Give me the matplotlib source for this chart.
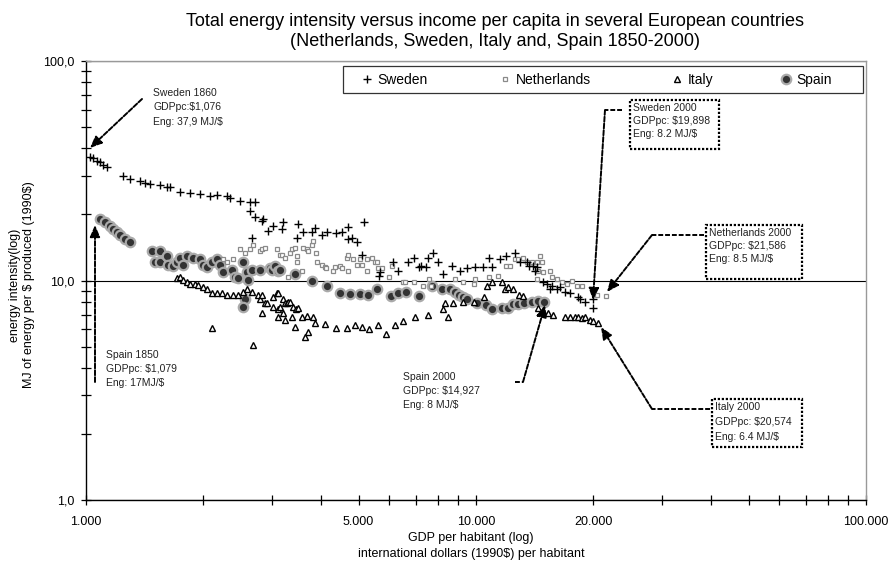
import matplotlib
matplotlib.use('Agg')
import matplotlib.pyplot as plt
from matplotlib.ticker import FixedLocator, FixedFormatter, LogLocator, NullFormatter
from matplotlib.patches import Rectangle
from matplotlib.legend import Legend

plt.rcParams['font.family'] = ['Liberation Sans', 'DejaVu Sans']
plt.rcParams['text.parse_math'] = False

# GDP per capita (1990 int. $) and energy intensity (MJ per $)
swe_gdp = [1024, 1042, 1067, 1086, 1106, 1132,
           1244, 1297, 1375, 1420, 1459, 1548, 1612, 1642,
           1742, 1849, 1961, 2081, 2166,
           2298, 2339, 2482, 2634, 2713,
           2634, 2660, 2713, 2826, 2843, 2927, 3014, 3178, 3196, 3473, 3494,
           3598, 3796, 3864, 4025, 4143, 4376, 4545, 4690, 4690, 4806, 4955, 5111, 5176,
           5628, 5662, 6114, 6315, 6710, 6924, 7138, 7227, 7450, 7546, 7769, 7995,
           8217, 8664, 9077, 9463, 9924, 10416, 10800, 10990,
           11506, 11958, 12563, 12980, 13510, 13700, 14005, 14170, 14360,
           14850, 15210, 15500, 15650, 16130, 16420, 16910, 17420, 18260, 18480,
           19040, 19950, 19898]
swe_int = [36.5, 36.2, 35.0, 34.7, 33.6, 32.9,
           29.9, 29.0, 28.5, 27.8, 27.5, 27.3, 26.6, 26.6,
           25.3, 25.0, 24.8, 24.2, 24.5,
           24.2, 23.8, 23.0, 22.7, 22.7,
           20.7, 15.6, 19.4, 18.6, 19.0, 16.8, 17.7, 17.1, 18.4, 15.7, 18.0,
           16.6, 16.6, 17.3, 16.2, 16.6, 16.4, 16.6, 17.5, 15.4, 15.7, 14.9, 13.1, 18.4,
           10.5, 10.9, 12.1, 11.0, 12.1, 12.7, 11.5, 11.6, 11.5, 12.6, 13.4, 12.1,
           10.65, 11.7, 11.0, 11.4, 11.5, 11.5, 12.6, 11.5,
           12.5, 12.9, 13.4, 12.2, 12.2, 11.7, 11.6, 11.0, 11.5,
           9.8, 9.6, 9.1, 9.4, 9.1, 9.3, 8.9, 8.8, 8.4, 8.2,
           8.0, 7.5, 8.2]

nld_gdp = [2245, 2298, 2382, 2482, 2557, 2634, 2680, 2794, 2826, 2877,
           3091, 3145, 3178, 3237, 3296, 3332, 3375, 3434, 3473, 3473,
           3580, 3598, 3687, 3709, 3796, 3818, 3888, 3911, 4025, 4102,
           4127, 4299, 4350, 4480, 4534, 4662, 4690, 4690, 4838, 4955,
           5042, 5111, 5254, 5254, 5412, 5508, 5573, 5607, 5741, 5984,
           6092, 6500, 6577, 6924, 7313, 7590, 7680, 8837, 9262, 9854,
           9924, 10800, 11386, 11958, 12190, 12563, 12830, 13200, 13520, 13920,
           14360, 14600, 14800, 14440, 14890, 15500, 15650, 14360, 16110, 16590,
           17120, 17670, 18200, 18720, 20430, 21586]
nld_int = [12.5, 12.1, 12.5, 13.9, 13.3, 13.9, 14.5, 13.6, 13.9, 14.1,
           13.9, 13.1, 13.1, 12.7, 10.4, 13.4, 13.9, 14.1, 12.9, 12.1,
           11.1, 14.1, 13.9, 13.6, 14.5, 15.2, 13.4, 12.1, 11.8, 11.5,
           11.35, 11.0, 11.5, 11.6, 11.35, 12.7, 13.1, 11.0, 12.5, 11.8,
           12.5, 11.8, 12.5, 11.0, 12.7, 12.1, 12.2, 11.35, 11.35, 10.4,
           11.7, 9.8, 9.8, 9.8, 9.4, 10.2, 9.4, 10.2, 9.8, 9.6,
           10.2, 10.4, 10.5, 11.7, 11.6, 12.5, 12.5, 12.7, 12.2, 12.2,
           12.1, 12.9, 12.1, 11.0, 10.9, 11.0, 10.4, 10.2, 10.2, 9.8,
           9.6, 9.9, 9.4, 9.4, 8.6, 8.5]

ita_gdp = [1712, 1742, 1773, 1815, 1849, 1904, 1937, 1995, 2043, 2104,
           2104, 2166, 2232, 2298, 2382, 2453, 2527, 2586, 2665, 2680,
           2761, 2794, 2826, 2826, 2877, 2911, 3014, 3014, 3091, 3108,
           3108, 3108, 3145, 3196, 3196, 3237, 3237, 3271, 3296, 3332,
           3375, 3392, 3434, 3453, 3494, 3580, 3643, 3687, 3709, 3818,
           3864, 4102, 4376, 4662, 4893, 5111, 5318, 5607, 5880, 6200,
           6500, 6978, 7546, 8217, 8327, 8476, 8730, 9262, 9854, 10483,
           10670, 10990, 11660, 11840, 12050, 12440, 12900, 13200, 14420, 14850,
           15300, 15760, 16910, 17420, 17950, 18260, 18700, 19040, 19600, 19950,
           20574]
ita_int = [10.3, 10.4, 10.1, 9.8, 9.6, 9.6, 9.5, 9.3, 9.1, 8.8,
           6.1, 8.8, 8.8, 8.6, 8.6, 8.6, 8.9, 9.1, 8.9, 5.1,
           8.6, 8.2, 8.6, 7.1, 7.9, 7.9, 8.4, 7.6, 8.8, 8.8,
           7.4, 6.85, 7.6, 8.2, 7.1, 7.9, 6.6, 7.9, 8.0, 8.0,
           6.8, 7.6, 6.15, 7.4, 7.5, 6.8, 5.55, 6.9, 5.8, 6.8,
           6.4, 6.35, 6.1, 6.1, 6.3, 6.15, 6.0, 6.3, 5.7, 6.3,
           6.55, 6.8, 7.0, 7.45, 7.9, 6.8, 7.9, 8.0, 8.0, 8.4,
           9.4, 9.8, 9.8, 9.1, 9.3, 9.1, 8.6, 8.5, 7.5, 7.3,
           7.1, 7.0, 6.85, 6.85, 6.85, 6.8, 6.75, 6.8, 6.6, 6.55,
           6.4]

esp_gdp = [1086, 1119, 1152, 1173, 1201, 1222, 1259, 1297, 1476, 1503,
           1548, 1548, 1612, 1623, 1672, 1712, 1742, 1773, 1815, 1881,
           1961, 1995, 2043, 2104, 2166, 2206, 2245, 2368, 2410, 2453,
           2527, 2586, 2600, 2557, 2527, 2665, 2794, 2963, 2999, 3050,
           3108, 3145, 3434, 3796, 4143, 4480, 4749, 5042, 5285, 5573,
           6053, 6315, 6615, 7138, 7720, 8180, 8578, 8837, 9043, 9262,
           9510, 10060, 10610, 10990, 11660, 12110, 12440, 12830, 13280, 13920,
           14420, 14927]
esp_int = [19.0, 18.4, 17.7, 17.1, 16.6, 16.1, 15.4, 14.9, 13.6, 12.2,
           13.6, 12.1, 12.9, 11.8, 11.6, 12.1, 12.7, 11.8, 12.9, 12.7,
           12.5, 11.8, 11.5, 12.2, 12.5, 11.8, 10.9, 11.2, 10.4, 10.3,
           12.1, 10.9, 10.1, 8.2, 7.6, 11.2, 11.2, 11.35, 11.2, 11.6,
           11.1, 11.2, 10.75, 10.0, 9.4, 8.8, 8.7, 8.7, 8.6, 9.1,
           8.5, 8.8, 8.9, 8.5, 9.4, 9.1, 9.1, 8.9, 8.6, 8.45,
           8.2, 7.9, 7.7, 7.45, 7.5, 7.5, 7.8, 7.8, 7.9, 8.0,
           8.1, 8.0]

x_ticks = [1000, 5000, 10000, 20000, 100000]
x_labels = ['1.000', '5.000', '10.000', '20.000', '100.000']
y_ticks = [1, 10, 100]
y_labels = ['1,0', '10,0', '100,0']

title_lines = ['Total energy intensity versus income per capita in several European countries',
               '(Netherlands, Sweden, Italy and, Spain 1850-2000)']
xlabel_lines = ['GDP per habitant (log)', 'international dollars (1990$) per habitant']
ylabel_lines = ['energy intensity(log)', 'MJ of energy per $ produced (1990$)']
legend_labels = ['Sweden', 'Netherlands', 'Italy', 'Spain']

# figure geometry in pixels
W, H = 889, 563
L, R, T, B = 86, 866, 61, 500


def axf(px, py):
    # pixel position -> axes fraction
    return (px - L) / (R - L), (B - py) / (B - T)


fig = plt.figure(figsize=(W / 100, H / 100), dpi=100)
ax = fig.add_axes([L / W, 1 - B / H, (R - L) / W, (B - T) / H])
ax.set_xscale('log')
ax.set_yscale('log')
ax.set_xlim(1000, 100000)
ax.set_ylim(1, 100)

esp, = ax.plot(esp_gdp, esp_int, 'o', ms=6.8, mfc='#333333', mec='#aaaaaa', mew=1.6, zorder=3)
nld, = ax.plot(nld_gdp, nld_int, 's', ms=3.4, mfc='white', mec='#8a8a8a', mew=0.9, zorder=4)
ita, = ax.plot(ita_gdp, ita_int, '^', ms=4.3, mfc='white', mec='black', mew=1.0, zorder=5)
swe, = ax.plot(swe_gdp, swe_int, '+', ms=6, mec='black', mew=1.0, zorder=6)

# axes, ticks
ax.xaxis.set_major_locator(FixedLocator(x_ticks))
ax.xaxis.set_major_formatter(FixedFormatter(x_labels))
ax.xaxis.set_minor_locator(LogLocator(base=10, subs=range(2, 10)))
ax.xaxis.set_minor_formatter(NullFormatter())
ax.yaxis.set_major_locator(FixedLocator(y_ticks))
ax.yaxis.set_major_formatter(FixedFormatter(y_labels))
ax.yaxis.set_minor_locator(LogLocator(base=10, subs=range(2, 10)))
ax.yaxis.set_minor_formatter(NullFormatter())
ax.tick_params(which='both', direction='inout', length=7, width=0.9, colors='black', labelsize=9)
ax.tick_params(axis='x', pad=8)
ax.tick_params(axis='y', pad=5)
ax.yaxis.grid(True, which='major', color='black', lw=0.8)
ax.set_axisbelow(True)
for s in ['left', 'bottom']:
    ax.spines[s].set_linewidth(1.0)
for s in ['top', 'right']:
    ax.spines[s].set_color('#999999')
    ax.spines[s].set_linewidth(1.0)

# titles and axis labels
fig.text(495 / W, 1 - 21 / H, title_lines[0], ha='center', va='center', fontsize=13)
fig.text(495 / W, 1 - 42 / H, title_lines[1], ha='center', va='center', fontsize=13)
fig.text(471 / W, 1 - 538 / H, xlabel_lines[0], ha='center', va='center', fontsize=9)
fig.text(471 / W, 1 - 554 / H, xlabel_lines[1], ha='center', va='center', fontsize=9)
fig.text(15 / W, 1 - 285 / H, ylabel_lines[0], ha='center', va='center', rotation=90, fontsize=9)
fig.text(29 / W, 1 - 285 / H, ylabel_lines[1], ha='center', va='center', rotation=90, fontsize=9)

# legend: frame plus one entry per country at its own spot
x0, y0 = axf(343, 93)
x1, y1 = axf(863, 66)
ax.add_patch(Rectangle((x0, y0), x1 - x0, y1 - y0, transform=ax.transAxes, fc='white',
                       ec='#333333', lw=0.9, zorder=7, clip_on=False))
leg_fs = 10
for handle, label, mx in zip([swe, nld, ita, esp], legend_labels, [367, 505, 677, 786]):
    leg = Legend(ax, [handle], [label], frameon=False, loc='center left',
                 bbox_to_anchor=axf(mx - 0.45 * leg_fs * 100 / 72, 80),
                 handlelength=0.9, handletextpad=0.3, fontsize=leg_fs,
                 borderaxespad=0, borderpad=0)
    leg.set_zorder(8)
    ax.add_artist(leg)

# annotations
note_kw = dict(transform=ax.transAxes, fontsize=7.5, color='#222222', ha='left', va='center', zorder=9)
dash = (0, (2.5, 1))
arrow_kw = dict(arrowstyle='-|>,head_length=0.7,head_width=0.3', color='black', lw=1.4,
                linestyle=dash, shrinkA=0, shrinkB=0, mutation_scale=10)


def note(px, ys, lines):
    for py, line in zip(ys, lines):
        ax.text(*axf(px, py), line, **note_kw)


def box(px0, py0, px1, py1):
    bx0, by0 = axf(px0, py1)
    bx1, by1 = axf(px1, py0)
    ax.add_patch(Rectangle((bx0, by0), bx1 - bx0, by1 - by0, transform=ax.transAxes, fc='white',
                           ec='black', lw=1.6, ls=(0, (1, 0.8)), zorder=8, clip_on=False))


def arrow(path):
    for (ax0, ay0), (ax1, ay1) in zip(path[:-2], path[1:-1]):
        p0, p1 = axf(ax0, ay0), axf(ax1, ay1)
        ax.plot([p0[0], p1[0]], [p0[1], p1[1]], transform=ax.transAxes, color='black',
                lw=1.4, ls=dash, zorder=9, clip_on=False)
    ax.annotate('', xy=axf(*path[-1]), xytext=axf(*path[-2]), xycoords='axes fraction',
                textcoords='axes fraction', arrowprops=arrow_kw, zorder=9)


note(153, [93, 107, 122], ['Sweden 1860', 'GDPpc:$1,076', 'Eng: 37,9 MJ/$'])
arrow([(142, 99), (90, 148)])

note(106, [355, 369, 383], ['Spain 1850', 'GDPpc: $1,079', 'Eng: 17MJ/$'])
arrow([(95, 382), (95, 225)])

note(403, [377, 391, 405], ['Spain 2000', 'GDPpc: $14,927', 'Eng: 8 MJ/$'])
arrow([(515, 382), (523, 382), (545, 305)])

box(630, 100, 719, 149)
note(633, [108, 121, 134], ['Sweden 2000', 'GDPpc: $19,898', 'Eng: 8.2 MJ/$'])
arrow([(622, 110), (605, 110), (593, 300)])

box(706, 225, 802, 279)
note(709, [233, 246, 259], ['Netherlands 2000', 'GDPpc: $21,586', 'Eng: 8.5 MJ/$'])
arrow([(704, 235), (652, 235), (607, 292)])

box(712, 399, 802, 447)
note(715, [407, 422, 437], ['Italy 2000', 'GDPpc: $20,574', 'Eng: 6.4 MJ/$'])
arrow([(710, 409), (652, 409), (601, 327)])

fig.savefig('out.png', dpi=100)
